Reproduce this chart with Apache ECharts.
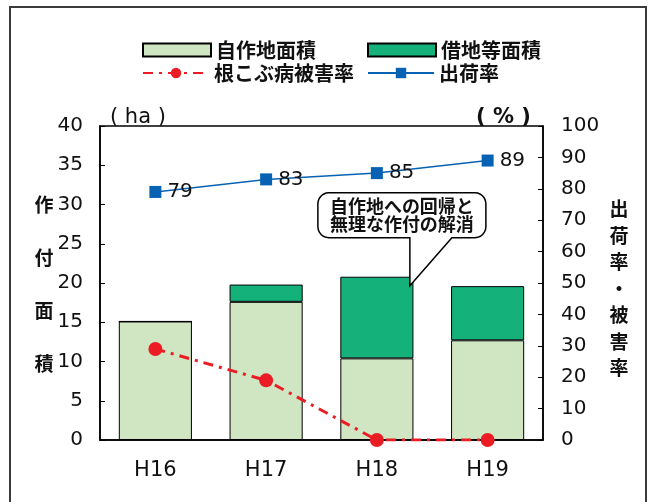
<!DOCTYPE html>
<html>
<head>
<meta charset="utf-8">
<script src="https://cdn.jsdelivr.net/npm/echarts@6/dist/echarts.min.js"></script>
<style>
  html, body { margin: 0; padding: 0; background: #fff; }
  #chart { width: 652px; height: 502px; }
</style>
</head>
<body>
<div id="chart"></div>
<script>
// Planted area (ha) by year, with shipping rate and clubroot damage rate (%)
const categories = ['H16', 'H17', 'H18', 'H19'];
const ownArea = [15.1, 17.6, 10.4, 12.7];      // 自作地面積
const rentedArea = [0, 2.2, 10.4, 6.9];        // 借地等面積
const damageRate = [29, 19, 0, 0];             // 根こぶ病被害率
const shipRate = [79, 83, 85, 89];             // 出荷率
const areaTicks = [0, 5, 10, 15, 20, 25, 30, 35, 40];
const rateTicks = [0, 10, 20, 30, 40, 50, 60, 70, 80, 90, 100];

const CJK = '"Noto Sans CJK JP", "Noto Sans", sans-serif';
const NUM = '"DejaVu Sans", sans-serif';

const chart = echarts.init(document.getElementById('chart'), null, { renderer: 'canvas' });

const axisCommon = {
  axisLine: { show: true, lineStyle: { color: '#000', width: 1.5 } },
  axisTick: { show: true, inside: true, length: 5, lineStyle: { color: '#000', width: 1 } },
  splitLine: { show: false },
  axisLabel: { color: '#111', fontSize: 20, fontFamily: NUM }
};

const legendText = { color: '#111', fontSize: 20, fontWeight: 'bold', fontFamily: CJK };
const legendBase = { padding: 0, itemWidth: 68, itemHeight: 13, textStyle: legendText };

const option = {
  animation: false,
  backgroundColor: '#fff',
  grid: {
    left: 100, right: 109, top: 126, bottom: 62,
    show: true, borderColor: '#000', borderWidth: 1.5, backgroundColor: 'transparent'
  },
  legend: [
    Object.assign({}, legendBase, { data: [{ name: '自作地面積', icon: 'rect' }], left: 142, top: 40 }),
    Object.assign({}, legendBase, { data: [{ name: '借地等面積', icon: 'rect' }], left: 367, top: 40 }),
    Object.assign({}, legendBase, { data: ['根こぶ病被害率'], left: 142, top: 63, itemWidth: 66 }),
    Object.assign({}, legendBase, { data: ['出荷率'], left: 367, top: 63, itemWidth: 66 })
  ],
  xAxis: {
    type: 'category',
    data: categories,
    axisLine: { show: true, lineStyle: { color: '#000', width: 1.5 } },
    axisTick: { show: false },
    axisLabel: { color: '#111', fontSize: 21, fontFamily: NUM, margin: 20 }
  },
  yAxis: [
    Object.assign({}, axisCommon, {
      type: 'value',
      min: areaTicks[0], max: areaTicks[areaTicks.length - 1],
      interval: areaTicks[1] - areaTicks[0],
      position: 'left',
      axisLabel: Object.assign({}, axisCommon.axisLabel, { margin: 17 })
    }),
    Object.assign({}, axisCommon, {
      type: 'value',
      min: rateTicks[0], max: rateTicks[rateTicks.length - 1],
      interval: rateTicks[1] - rateTicks[0],
      position: 'right',
      axisLabel: Object.assign({}, axisCommon.axisLabel, { margin: 18 })
    })
  ],
  series: [
    {
      name: '自作地面積', type: 'bar', stack: 'area', barWidth: '66%',
      data: ownArea,
      itemStyle: { color: '#D0E6C3', borderColor: '#000', borderWidth: 1 }
    },
    {
      name: '借地等面積', type: 'bar', stack: 'area', barWidth: '66%',
      data: rentedArea,
      itemStyle: { color: '#14B17A', borderColor: '#000', borderWidth: 1 }
    },
    {
      name: '根こぶ病被害率', type: 'line', yAxisIndex: 1,
      data: damageRate,
      symbol: 'circle', symbolSize: 14,
      itemStyle: { color: '#EC1C24' },
      lineStyle: { color: '#EC1C24', width: 3, type: [10, 6, 3, 6] },
      z: 5
    },
    {
      name: '出荷率', type: 'line', yAxisIndex: 1,
      data: shipRate,
      symbol: 'rect', symbolSize: 12,
      itemStyle: { color: '#0862B4' },
      lineStyle: { color: '#0862B4', width: 1.5 },
      label: { show: true, position: 'right', distance: 6, color: '#111', fontSize: 20, fontFamily: NUM },
      z: 6
    }
  ]
};

chart.setOption(option);

// Rounded corner points for the callout outline
function arcPoints(cx, cy, r, a0, a1) {
  const pts = [];
  const n = 6;
  for (let k = 0; k <= n; k++) {
    const a = a0 + (a1 - a0) * k / n;
    pts.push([cx + r * Math.cos(a), cy + r * Math.sin(a)]);
  }
  return pts;
}

// Frame, unit captions, axis titles and the callout on the H18 bar
function buildGraphics() {
  const i = 2;
  const tip = chart.convertToPixel({ xAxisIndex: 0, yAxisIndex: 0 }, [categories[i], ownArea[i] + rentedArea[i]]);
  const tx = tip[0] + 33, ty = tip[1] + 9;
  const left = tx - 92, right = tx + 76, top = ty - 93, bottom = ty - 48, r = 11;
  const PI = Math.PI;
  const points = [].concat(
    arcPoints(left + r, top + r, r, PI, 1.5 * PI),
    arcPoints(right - r, top + r, r, 1.5 * PI, 2 * PI),
    arcPoints(right - r, bottom - r, r, 0, 0.5 * PI),
    [[tx + 42, bottom], [tx, ty], [tx, bottom]],
    arcPoints(left + r, bottom - r, r, 0.5 * PI, PI)
  );

  const vtext = (chars, x, y0, step) => chars.split('').map((c, k) => ({
    type: 'text', x: x, y: y0 + k * step,
    style: { text: c, fill: '#111', font: 'bold 19px ' + CJK, textAlign: 'center', textVerticalAlign: 'middle' }
  }));

  chart.setOption({
    graphic: [
      { type: 'rect', shape: { x: 10, y: 7, width: 636, height: 520 }, style: { fill: 'none', stroke: '#3a3a3a', lineWidth: 2 }, silent: true },
      {
        type: 'text', x: 110, y: 118,
        style: { text: '( ha )', fill: '#111', font: '21px ' + NUM, textVerticalAlign: 'middle' }
      },
      {
        type: 'text', x: 476, y: 118,
        style: { text: '( % )', fill: '#111', font: 'bold 21px ' + NUM, textVerticalAlign: 'middle' }
      },
      ...vtext('作付面積', 44, 205, 53),
      ...vtext('出荷率・被害率', 619, 209, 26.5),
      { type: 'polygon', shape: { points: points }, style: { fill: '#fff', stroke: '#000', lineWidth: 1.5 }, z: 20 },
      {
        type: 'text', x: (left + right) / 2, y: (top + bottom) / 2, z: 21,
        style: { text: '自作地への回帰と\n無理な作付の解消', fill: '#111', font: 'bold 18px ' + CJK,
                 lineHeight: 18, textAlign: 'center', textVerticalAlign: 'middle' }
      }
    ]
  });
}
buildGraphics();
</script>
</body>
</html>
